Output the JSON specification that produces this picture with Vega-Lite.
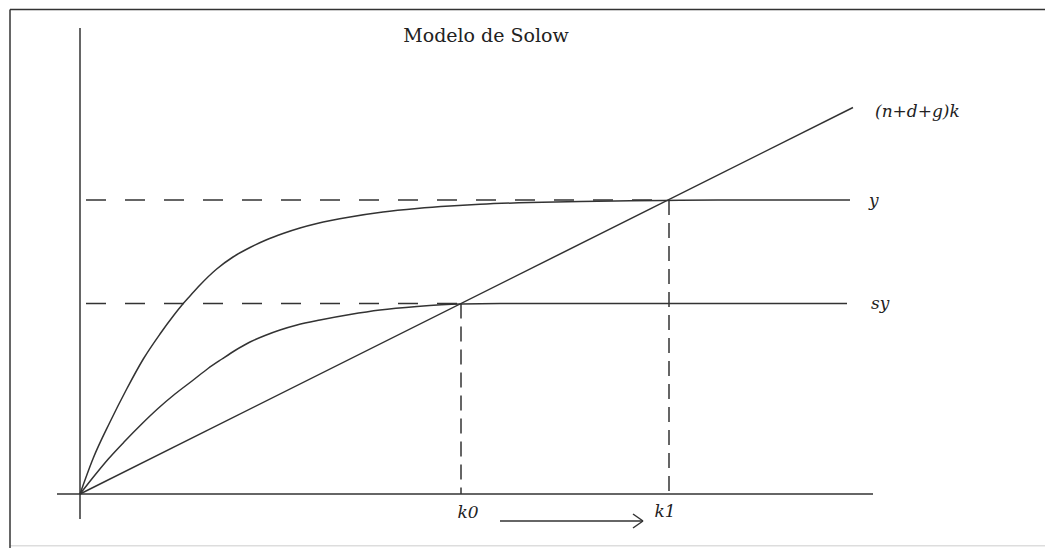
{
  "$schema": "https://vega.github.io/schema/vega-lite/v6.json",
  "width": 1045,
  "height": 548,
  "autosize": "none",
  "padding": 0,
  "background": "white",
  "config": {"view": {"stroke": null}},
  "datasets": {
    "solid": [
      {"name": "border top", "x": -7, "y": 48.45, "x2": 96.5, "y2": 48.45},
      {"name": "border left", "x": -7, "y": -5.4, "x2": -7, "y2": 48.45},
      {"name": "eje k", "x": -2.3, "y": 0, "x2": 79.3, "y2": 0},
      {"name": "eje y", "x": 0, "y": -2.5, "x2": 0, "y2": 46.6},
      {"name": "(n+d+g)k", "x": 0, "y": 0, "x2": 77.3, "y2": 38.65},
      {"name": "flecha", "x": 42, "y": -2.7, "x2": 56.3, "y2": -2.7},
      {"name": "punta1", "x": 55.3, "y": -2.0, "x2": 56.3, "y2": -2.7},
      {"name": "punta2", "x": 55.3, "y": -3.4, "x2": 56.3, "y2": -2.7}
    ],
    "faint": [
      {"name": "border bottom", "x": -7, "y": -5.17, "x2": 96.5, "y2": -5.17}
    ],
    "dashH": [
      {"name": "y*", "x": 0.6, "y": 29.4, "x2": 58.9, "y2": 29.4},
      {"name": "sy*", "x": 0.6, "y": 19.05, "x2": 38.1, "y2": 19.05}
    ],
    "dashV": [
      {"name": "k0", "x": 38.1, "y": 19.05, "x2": 38.1, "y2": 0},
      {"name": "k1", "x": 58.9, "y": 29.4, "x2": 58.9, "y2": 0}
    ],
    "curves": [
      {"serie": "y", "k": 0, "v": 0},
      {"serie": "y", "k": 1.33, "v": 3.6},
      {"serie": "y", "k": 3, "v": 7.2},
      {"serie": "y", "k": 4.67, "v": 10.5},
      {"serie": "y", "k": 6.33, "v": 13.5},
      {"serie": "y", "k": 8, "v": 16.0},
      {"serie": "y", "k": 9.4, "v": 17.9},
      {"serie": "y", "k": 10.2, "v": 18.9},
      {"serie": "y", "k": 11, "v": 19.8},
      {"serie": "y", "k": 12, "v": 20.9},
      {"serie": "y", "k": 13.67, "v": 22.5},
      {"serie": "y", "k": 15.3, "v": 23.7},
      {"serie": "y", "k": 17, "v": 24.65},
      {"serie": "y", "k": 18.6, "v": 25.4},
      {"serie": "y", "k": 20.3, "v": 26.05},
      {"serie": "y", "k": 22, "v": 26.6},
      {"serie": "y", "k": 23.7, "v": 27.05},
      {"serie": "y", "k": 27, "v": 27.7},
      {"serie": "y", "k": 30.3, "v": 28.2},
      {"serie": "y", "k": 33.7, "v": 28.55},
      {"serie": "y", "k": 37, "v": 28.8},
      {"serie": "y", "k": 40, "v": 28.97},
      {"serie": "y", "k": 45, "v": 29.15},
      {"serie": "y", "k": 50, "v": 29.25},
      {"serie": "y", "k": 55, "v": 29.32},
      {"serie": "y", "k": 60, "v": 29.37},
      {"serie": "y", "k": 65, "v": 29.4},
      {"serie": "y", "k": 77, "v": 29.4},
      {"serie": "sy", "k": 0, "v": 0},
      {"serie": "sy", "k": 1.5, "v": 1.9},
      {"serie": "sy", "k": 2.83, "v": 3.5},
      {"serie": "sy", "k": 4.5, "v": 5.3},
      {"serie": "sy", "k": 6.17, "v": 7.0},
      {"serie": "sy", "k": 7.8, "v": 8.55},
      {"serie": "sy", "k": 9.5, "v": 10.0},
      {"serie": "sy", "k": 11.2, "v": 11.3},
      {"serie": "sy", "k": 12.8, "v": 12.55},
      {"serie": "sy", "k": 14.2, "v": 13.5},
      {"serie": "sy", "k": 15.5, "v": 14.35},
      {"serie": "sy", "k": 17, "v": 15.2},
      {"serie": "sy", "k": 18.5, "v": 15.85},
      {"serie": "sy", "k": 20, "v": 16.4},
      {"serie": "sy", "k": 21.7, "v": 16.9},
      {"serie": "sy", "k": 24, "v": 17.4},
      {"serie": "sy", "k": 27, "v": 17.95},
      {"serie": "sy", "k": 30, "v": 18.4},
      {"serie": "sy", "k": 33.7, "v": 18.75},
      {"serie": "sy", "k": 38.1, "v": 19.0},
      {"serie": "sy", "k": 42, "v": 19.05},
      {"serie": "sy", "k": 48, "v": 19.05},
      {"serie": "sy", "k": 76.7, "v": 19.05}
    ],
    "title": [
      {"text": "Modelo de Solow", "x": 40.6, "y": 45.8}
    ],
    "labels": [
      {"text": "(n+d+g)k", "x": 79.5, "y": 38.2},
      {"text": "y", "x": 78.9, "y": 29.3},
      {"text": "sy", "x": 79.1, "y": 19.0}
    ],
    "klabels": [
      {"text": "k0", "x": 38.8, "y": -1.9},
      {"text": "k1", "x": 58.5, "y": -1.8}
    ]
  },
  "encoding": {
    "x": {"field": "x", "type": "quantitative", "scale": {"domain": [-8, 96.5], "nice": false, "zero": false}, "axis": null},
    "y": {"field": "y", "type": "quantitative", "scale": {"domain": [-5.4, 49.4], "nice": false, "zero": false}, "axis": null}
  },
  "layer": [
    {
      "data": {"name": "faint"},
      "mark": {"type": "rule", "color": "#dddddd", "strokeWidth": 1.5},
      "encoding": {"x2": {"field": "x2"}, "y2": {"field": "y2"}}
    },
    {
      "data": {"name": "solid"},
      "mark": {"type": "rule", "color": "#333333", "strokeWidth": 1.5},
      "encoding": {"x2": {"field": "x2"}, "y2": {"field": "y2"}}
    },
    {
      "data": {"name": "dashH"},
      "mark": {"type": "rule", "color": "#333333", "strokeWidth": 1.5, "strokeDash": [20, 19]},
      "encoding": {"x2": {"field": "x2"}, "y2": {"field": "y2"}}
    },
    {
      "data": {"name": "dashV"},
      "mark": {"type": "rule", "color": "#333333", "strokeWidth": 1.5, "strokeDash": [15, 8]},
      "encoding": {"x2": {"field": "x2"}, "y2": {"field": "y2"}}
    },
    {
      "data": {"name": "curves"},
      "mark": {"type": "line", "color": "#333333", "strokeWidth": 1.5, "interpolate": "monotone"},
      "encoding": {
        "x": {"field": "k", "type": "quantitative"},
        "y": {"field": "v", "type": "quantitative"},
        "detail": {"field": "serie"}
      }
    },
    {
      "data": {"name": "title"},
      "mark": {"type": "text", "font": "DejaVu Serif", "fontSize": 19, "color": "#222222", "align": "center", "baseline": "middle"},
      "encoding": {"text": {"field": "text"}}
    },
    {
      "data": {"name": "labels"},
      "mark": {"type": "text", "font": "DejaVu Serif", "fontStyle": "italic", "fontSize": 17, "color": "#222222", "align": "left", "baseline": "middle"},
      "encoding": {"text": {"field": "text"}}
    },
    {
      "data": {"name": "klabels"},
      "mark": {"type": "text", "font": "DejaVu Serif", "fontStyle": "italic", "fontSize": 17, "color": "#222222", "align": "center", "baseline": "middle"},
      "encoding": {"text": {"field": "text"}}
    }
  ]
}
